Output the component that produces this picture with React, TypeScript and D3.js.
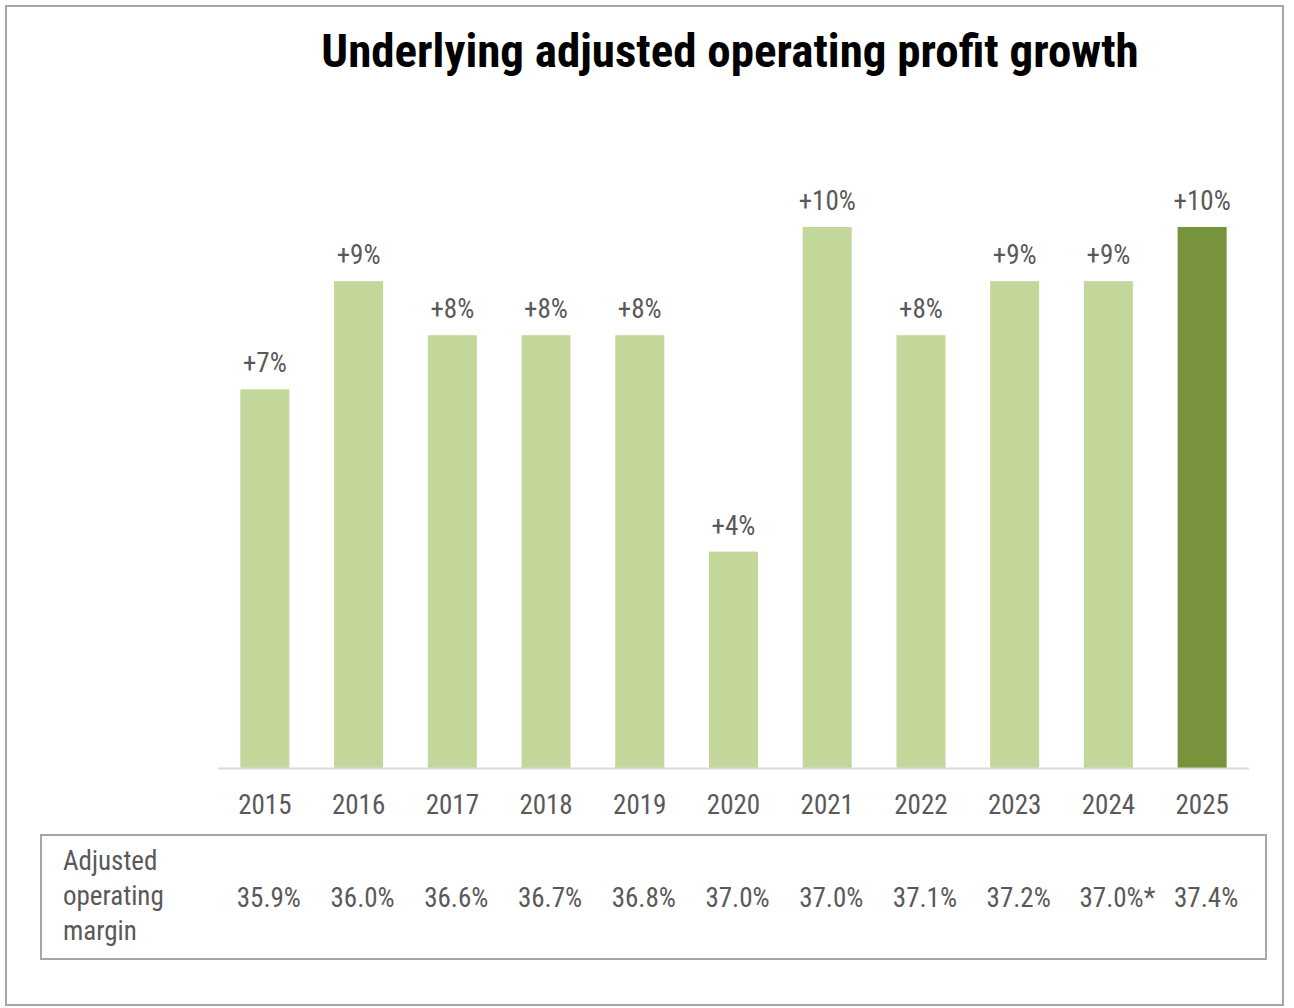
import React from "react";
import * as d3 from "d3";

const years = ["2015","2016","2017","2018","2019","2020","2021","2022","2023","2024","2025"];
const growth = [7, 9, 8, 8, 8, 4, 10, 8, 9, 9, 10];
const growthLabels = ["+7%","+9%","+8%","+8%","+8%","+4%","+10%","+8%","+9%","+9%","+10%"];
const margins = ["35.9%","36.0%","36.6%","36.7%","36.8%","37.0%","37.0%","37.1%","37.2%","37.0%","37.4%"];
const marginNotes = ["","","","","","","","","","*",""];
const highlightYear = "2025";
const rowLabel = ["Adjusted", "operating", "margin"];
const title = "Underlying adjusted operating profit growth";

const W = 1294, H = 1008;
const FONT = "'Liberation Sans Narrow', 'Arial Narrow', 'Roboto Condensed', sans-serif";
const TXT = "#595959";

export default function App() {
  const x = d3.scaleBand<string>().domain(years).range([218, 1249]).paddingInner(0.477).paddingOuter(0.2385);
  const y = d3.scaleLinear().domain([0, 10]).range([768, 227]);
  return (
    <svg width={W} height={H} style={{ position: "absolute", left: 0, top: 0 }}>
      <rect x={0} y={0} width={W} height={H} fill="#fff" />
      <rect x={6} y={6} width={1277} height={999} fill="none" stroke="#a6a6a6" strokeWidth={2} />
      <text x={730} y={67} textAnchor="middle" fontFamily={FONT} fontWeight="bold" fontSize={47} fill="#000">{title}</text>
      {years.map((yr, i) => (
        <rect key={yr} x={x(yr)} y={y(growth[i])} width={x.bandwidth()} height={y(0) - y(growth[i])}
          fill={yr === highlightYear ? "#77933c" : "#c4d79b"} />
      ))}
      <line x1={218} x2={1249} y1={768.5} y2={768.5} stroke="#d9d9d9" strokeWidth={2} />
      {years.map((yr, i) => (
        <text key={"l" + yr} x={x(yr)! + x.bandwidth() / 2} y={y(growth[i]) - 17} textAnchor="middle"
          fontFamily={FONT} fontSize={27} fill={TXT}>{growthLabels[i]}</text>
      ))}
      {years.map((yr) => (
        <text key={"y" + yr} x={x(yr)! + x.bandwidth() / 2} y={814} textAnchor="middle"
          fontFamily={FONT} fontSize={27} fill={TXT}>{yr}</text>
      ))}
      <rect x={41} y={835} width={1225} height={124} fill="none" stroke="#a6a6a6" strokeWidth={2} />
      {rowLabel.map((t, i) => (
        <text key={t} x={63} y={870 + i * 35} fontFamily={FONT} fontSize={27} fill={TXT}>{t}</text>
      ))}
      {years.map((yr, i) => (
        <text key={"m" + yr} x={x(yr)! + x.bandwidth() / 2 + 4 + (marginNotes[i] ? 5 : 0)} y={907} textAnchor="middle"
          fontFamily={FONT} fontSize={27} fill={TXT}>{margins[i] + marginNotes[i]}</text>
      ))}
    </svg>
  );
}
